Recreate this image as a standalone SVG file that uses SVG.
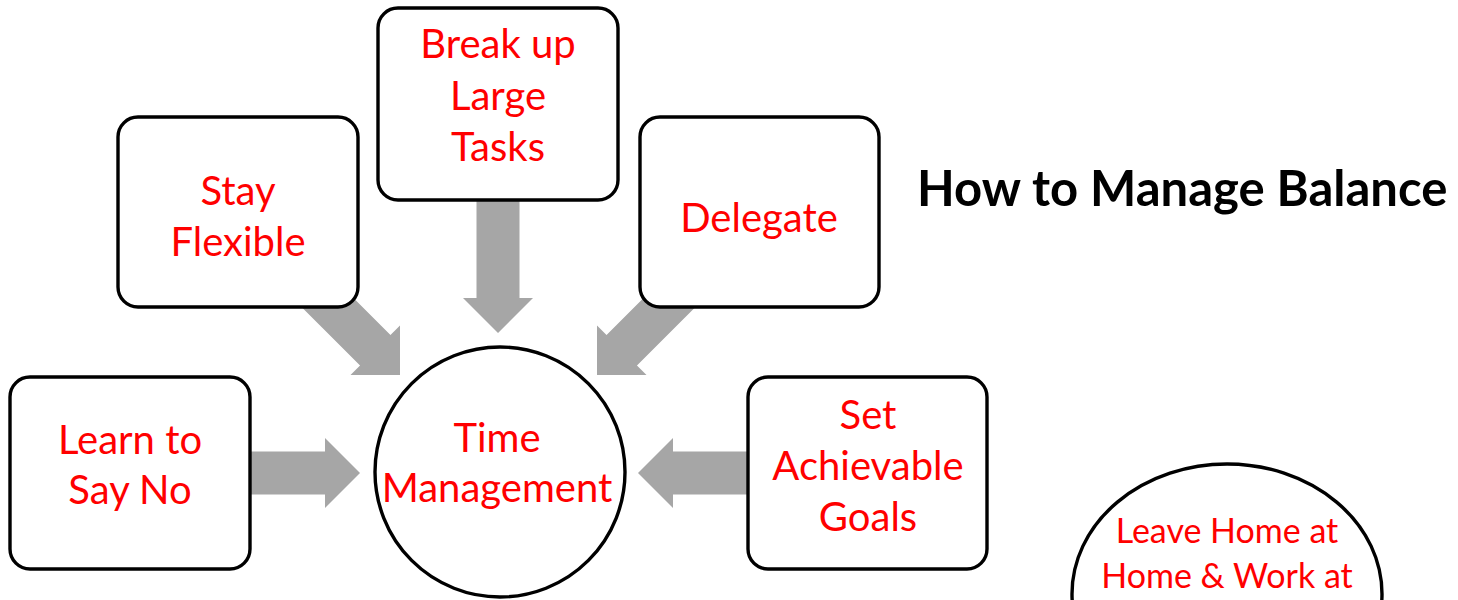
<svg xmlns="http://www.w3.org/2000/svg" xmlns:xlink="http://www.w3.org/1999/xlink" width="1458" height="600" viewBox="0 0 1458 600">
  <style>
    .box { fill: #ffffff; stroke: #000000; stroke-width: 3.4; }
    .lbl { font-family: Lato, "Liberation Sans", sans-serif; font-size: 40px; fill: #ff0000; text-anchor: middle; }
    .small { font-size: 34px; }
    .title { font-family: Lato, "Liberation Sans", sans-serif; font-weight: bold; font-size: 49px; fill: #000000; }
    .arrow { fill: #a6a6a6; }
  </style>
  <defs>
    <!-- block arrow pointing along +x, tip at the origin -->
    <path id="blockArrow" d="M -145 -21.5 L -35 -21.5 L -35 -35 L 0 0 L -35 35 L -35 21.5 L -145 21.5 Z"/>
  </defs>

  <g id="connectors" class="arrow">
    <use xlink:href="#blockArrow" href="#blockArrow" transform="translate(360,473)"/>
    <use xlink:href="#blockArrow" href="#blockArrow" transform="translate(638,473) rotate(180)"/>
    <use xlink:href="#blockArrow" href="#blockArrow" transform="translate(498,333) rotate(90)"/>
    <use xlink:href="#blockArrow" href="#blockArrow" transform="translate(400,375) rotate(45)"/>
    <use xlink:href="#blockArrow" href="#blockArrow" transform="translate(597,375) rotate(135)"/>
  </g>

  <g id="stay-flexible">
    <rect class="box" x="118" y="117" width="240" height="190" rx="20"/>
    <text class="lbl" x="238" y="205">Stay</text>
    <text class="lbl" x="238" y="256">Flexible</text>
  </g>

  <g id="break-up-large-tasks">
    <rect class="box" x="378" y="8" width="240" height="192" rx="20"/>
    <text class="lbl" x="498" y="58">Break up</text>
    <text class="lbl" x="498" y="110">Large</text>
    <text class="lbl" x="498" y="161">Tasks</text>
  </g>

  <g id="delegate">
    <rect class="box" x="640" y="117" width="239" height="190" rx="20"/>
    <text class="lbl" x="759" y="232">Delegate</text>
  </g>

  <g id="learn-to-say-no">
    <rect class="box" x="10" y="377" width="240" height="192" rx="20"/>
    <text class="lbl" x="130" y="454">Learn to</text>
    <text class="lbl" x="130" y="504">Say No</text>
  </g>

  <g id="set-achievable-goals">
    <rect class="box" x="748" y="377" width="239" height="192" rx="20"/>
    <text class="lbl" x="868" y="429">Set</text>
    <text class="lbl" x="868" y="480">Achievable</text>
    <text class="lbl" x="868" y="531">Goals</text>
  </g>

  <g id="time-management">
    <circle class="box" cx="500" cy="472" r="125"/>
    <text class="lbl" x="497" y="452">Time</text>
    <text class="lbl" x="497" y="502">Management</text>
  </g>

  <g id="leave-home-at-home">
    <ellipse class="box" cx="1227" cy="594" rx="155" ry="130"/>
    <text class="lbl small" x="1227" y="543">Leave Home at</text>
    <text class="lbl small" x="1227" y="588">Home &amp; Work at</text>
  </g>

  <g id="title">
    <text class="title" x="917" y="206">How to Manage Balance</text>
  </g>
</svg>
